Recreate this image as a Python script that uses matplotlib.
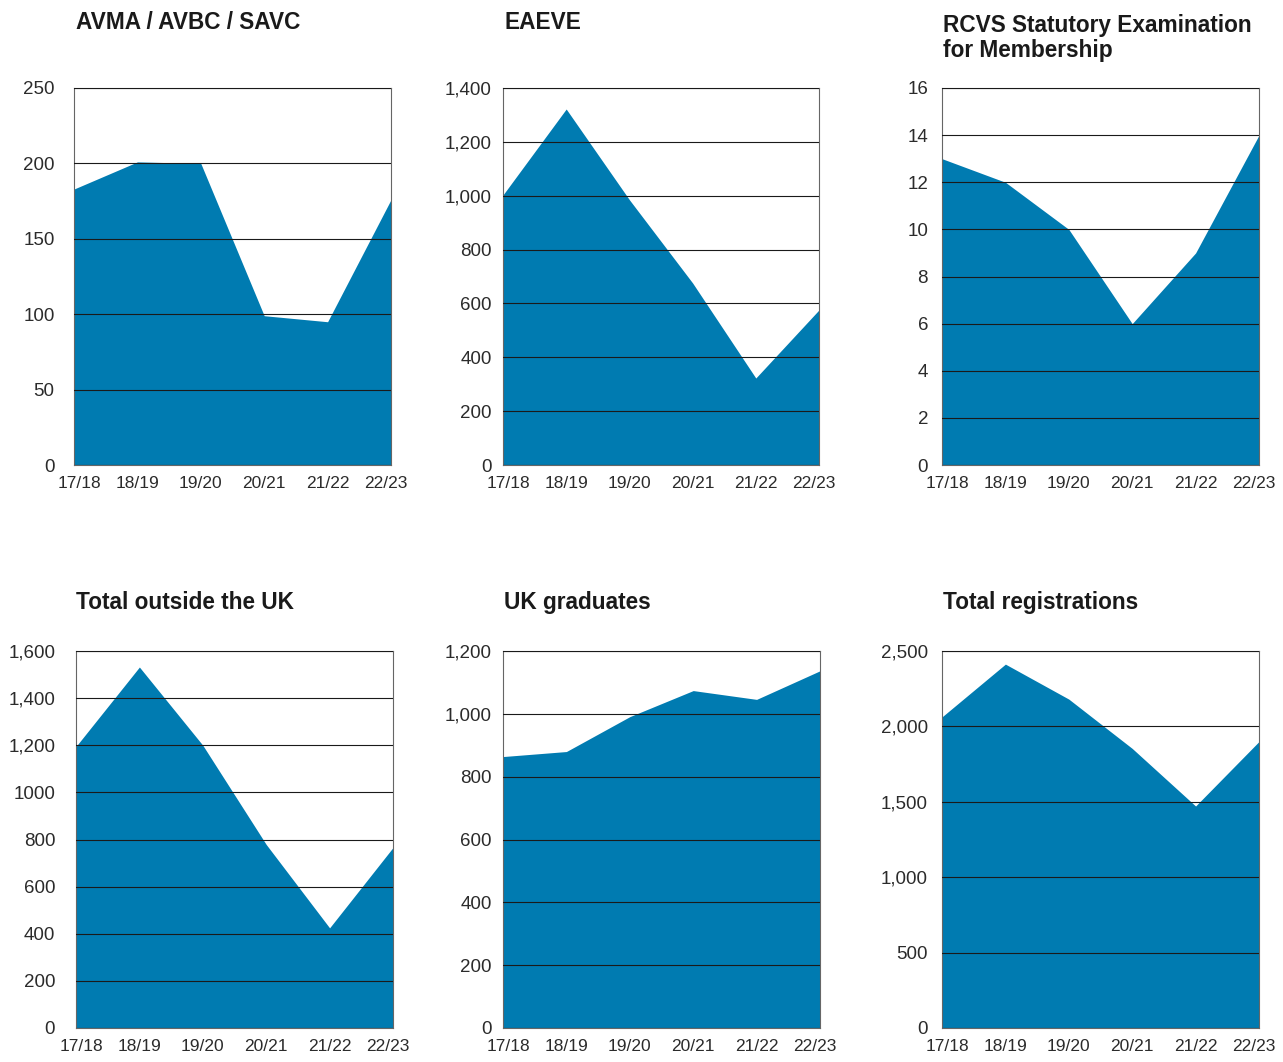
import matplotlib.pyplot as plt
from matplotlib.transforms import offset_copy

plt.rcParams['font.family'] = ['Liberation Sans', 'DejaVu Sans']

years = ['17/18', '18/19', '19/20', '20/21', '21/22', '22/23']

avma = [183, 201, 200, 99, 95, 176]
eaeve = [1003, 1322, 985, 676, 323, 576]
rcvs = [13, 12, 10, 6, 9, 14]
outside_uk = [1195, 1532, 1200, 779, 425, 766]
uk_grads = [864, 880, 991, 1074, 1046, 1137]
total_reg = [2063, 2413, 2181, 1854, 1472, 1900]

titles = ['AVMA / AVBC / SAVC', 'EAEVE', 'RCVS Statutory Examination\nfor Membership',
          'Total outside the UK', 'UK graduates', 'Total registrations']
series = [avma, eaeve, rcvs, outside_uk, uk_grads, total_reg]

yticks = [[0, 50, 100, 150, 200, 250],
          [0, 200, 400, 600, 800, 1000, 1200, 1400],
          [0, 2, 4, 6, 8, 10, 12, 14, 16],
          [0, 200, 400, 600, 800, 1000, 1200, 1400, 1600],
          [0, 200, 400, 600, 800, 1000, 1200],
          [0, 500, 1000, 1500, 2000, 2500]]
ylabels = [['0', '50', '100', '150', '200', '250'],
           ['0', '200', '400', '600', '800', '1,000', '1,200', '1,400'],
           ['0', '2', '4', '6', '8', '10', '12', '14', '16'],
           ['0', '200', '400', '600', '800', '1000', '1,200', '1,400', '1,600'],
           ['0', '200', '400', '600', '800', '1,000', '1,200'],
           ['0', '500', '1,000', '1,500', '2,000', '2,500']]

W, H = 1283, 1062
# axes boxes in pixels: left, top, right, bottom
boxes = [(74, 88, 391, 465), (503, 88, 819, 465), (942, 88, 1259, 465),
         (76, 651, 393, 1028), (503, 651, 820, 1028), (942, 651, 1259, 1028)]
# baseline of the last title line, pixels
title_pos = [(76, 29), (504, 29), (943, 57), (76, 609), (504, 609), (943, 609)]
ypads = [14, 8, 10, 15, 8, 10]

blue = '#007bb1'
fig = plt.figure(figsize=(W / 100, H / 100), dpi=100, facecolor='white')

for i in range(6):
    l, t, r, b = boxes[i]
    ax = fig.add_axes([l / W, 1 - b / H, (r - l) / W, (b - t) / H])
    x = range(len(years))
    ax.fill_between(x, 0, series[i], color=blue, lw=0, zorder=1)
    ax.set_xlim(0, len(years) - 1)
    ax.set_ylim(0, yticks[i][-1])
    ax.set_yticks(yticks[i])
    ax.set_yticklabels(ylabels[i])
    ax.set_xticks(list(x))
    ax.set_xticklabels(years)
    ax.set_axisbelow(False)
    ax.grid(axis='y', color='#1a1a1a', lw=0.8)
    ax.grid(axis='x', visible=False)
    ax.tick_params(length=0, colors='#2b2b2b')
    ax.tick_params(axis='y', labelsize=13.5, pad=ypads[i])
    ax.tick_params(axis='x', labelsize=12.5, pad=8)
    for s in ax.spines.values():
        s.set_color('#666666')
        s.set_linewidth(0.8)
    labs = ax.get_xticklabels()
    labs[0].set_transform(offset_copy(labs[0].get_transform(), fig=fig, x=5, y=0, units='dots'))
    labs[-1].set_transform(offset_copy(labs[-1].get_transform(), fig=fig, x=-5, y=0, units='dots'))

    tx, ty = title_pos[i]
    fig.text(tx / W, 1 - ty / H, titles[i], fontsize=16.3, fontweight='bold',
             color='#1a1a1a', ha='left', va='baseline', linespacing=1.1)

fig.savefig('out.png', dpi=100, facecolor='white')
